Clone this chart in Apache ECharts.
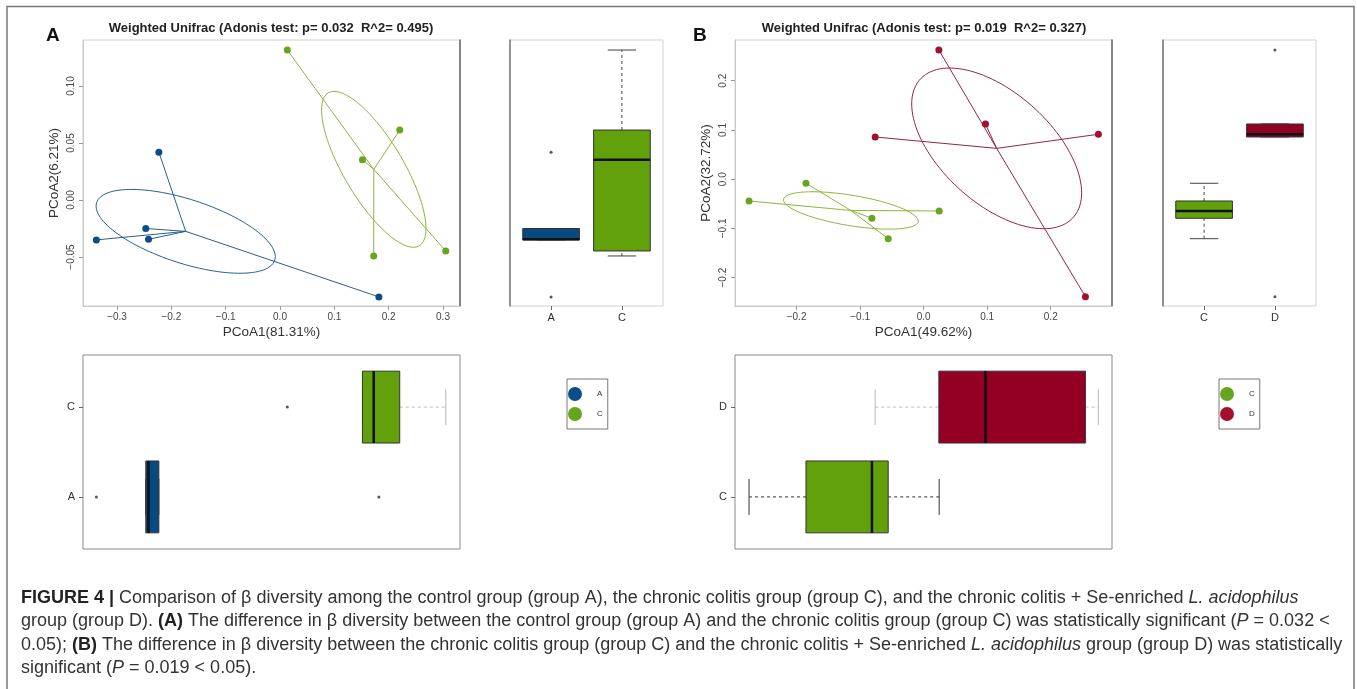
<!DOCTYPE html>
<html><head><meta charset="utf-8">
<script src="https://cdn.jsdelivr.net/npm/echarts@6/dist/echarts.min.js"></script>
<style>html,body{margin:0;padding:0;background:#fff}#chart{width:1357px;height:689px}</style>
</head><body><div id="chart"></div>
<script>
// ---------------- data ----------------
const groupsA = ['A', 'C'];
const groupsB = ['C', 'D'];
// Panel A: PCoA1 / PCoA2 coordinates
const pA_groupA_x = [-0.223, -0.247, -0.338, -0.242, 0.182];
const pA_groupA_y = [0.042, -0.025, -0.035, -0.0345, -0.085];
const pA_groupC_x = [0.0135, 0.2204, 0.1517, 0.1725, 0.3051];
const pA_groupC_y = [0.1316, 0.0614, 0.0354, -0.0491, -0.0447];
// Panel B
const pB_groupC_x = [-0.2748, -0.1852, -0.0814, -0.0558, 0.0244];
const pB_groupC_y = [-0.0443, -0.0083, -0.0794, -0.1208, -0.0646];
const pB_groupD_x = [0.0239, 0.0973, -0.0763, 0.275, 0.2546];
const pB_groupD_y = [0.2623, 0.1121, 0.0857, 0.0912, -0.2386];
// ellipse size factors (relative to 1 SD)
const ellipseScaleA = [0.81, 0.90];
const ellipseScaleB = [0.91, 0.89];
// tick labels
const ticksA_x = [-0.3, -0.2, -0.1, 0.0, 0.1, 0.2, 0.3];
const ticksA_y = [-0.05, 0.00, 0.05, 0.10];
const ticksB_x = [-0.2, -0.1, 0.0, 0.1, 0.2];
const ticksB_y = [-0.2, -0.1, 0.0, 0.1, 0.2];
const titleA = 'Weighted Unifrac (Adonis test: p= 0.032  R^2= 0.495)';
const titleB = 'Weighted Unifrac (Adonis test: p= 0.019  R^2= 0.327)';
const xNameA = 'PCoA1(81.31%)', yNameA = 'PCoA2(6.21%)';
const xNameB = 'PCoA1(49.62%)', yNameB = 'PCoA2(32.72%)';

// ---------------- styles ----------------
const FONT = '"Liberation Sans", Arial, Helvetica, sans-serif';
const COL = { A: '#0b4c8a', C: '#66a61e', D: '#a3102e' };
const LINECOL = { A: '#2b5f90', C: '#8db53e', D: '#93244d' };
const FILL = { A: '#064a82', C: '#62a00c', D: '#930023' };

// ---------------- helpers ----------------
function fivenum(arr) {
  const s = arr.slice().sort((a, b) => a - b), n = s.length;
  const n4 = Math.floor((n + 3) / 2) / 2;
  const d = [1, n4, (n + 1) / 2, n + 1 - n4, n];
  return d.map(v => 0.5 * (s[Math.floor(v) - 1] + s[Math.ceil(v) - 1]));
}
function boxStats(arr) {
  const f = fivenum(arr), iqr = f[3] - f[1];
  const lo = f[1] - 1.5 * iqr, hi = f[3] + 1.5 * iqr;
  const inside = arr.filter(v => v >= lo && v <= hi);
  return { low: Math.min(...inside), q1: f[1], med: f[2], q3: f[3], high: Math.max(...inside),
           out: arr.filter(v => v < lo || v > hi) };
}
function mean(a) { return a.reduce((s, v) => s + v, 0) / a.length; }
function ellipse(xs, ys, scale) {
  const cx = mean(xs), cy = mean(ys), m = xs.length;
  let sxx = 0, syy = 0, sxy = 0;
  for (let i = 0; i < m; i++) { const dx = xs[i] - cx, dy = ys[i] - cy; sxx += dx * dx; syy += dy * dy; sxy += dx * dy; }
  sxx /= (m - 1); syy /= (m - 1); sxy /= (m - 1);
  const l11 = Math.sqrt(sxx), l21 = sxy / l11, l22 = Math.sqrt(Math.max(syy - l21 * l21, 0));
  const pts = [];
  for (let k = 0; k <= 120; k++) {
    const t = 2 * Math.PI * k / 120;
    pts.push([cx + scale * l11 * Math.cos(t), cy + scale * (l21 * Math.cos(t) + l22 * Math.sin(t))]);
  }
  return pts;
}
const zip = (xs, ys) => xs.map((x, i) => [x, ys[i]]);
const fmtMinus = s => s.replace('-', '\u2212');

// ---------------- build series ----------------
const series = [];
function addScatterPanel(grid, groups, xsList, ysList, scales) {
  groups.forEach((g, gi) => {
    const xs = xsList[gi], ys = ysList[gi];
    const c = [mean(xs), mean(ys)];
    series.push({ type: 'line', name: 'ell' + g + grid, xAxisIndex: grid, yAxisIndex: grid, data: ellipse(xs, ys, scales[gi]),
      showSymbol: false, symbol: 'none', smooth: false, lineStyle: { color: LINECOL[g], width: 1 }, z: 2, silent: true });
    series.push({ type: 'custom', name: 'spider' + g + grid, xAxisIndex: grid, yAxisIndex: grid, data: zip(xs, ys), z: 3, silent: true,
      renderItem: (params, api) => {
        const p = api.coord([api.value(0), api.value(1)]), q = api.coord(c);
        return { type: 'line', shape: { x1: q[0], y1: q[1], x2: p[0], y2: p[1] }, style: { stroke: LINECOL[g], lineWidth: 1 } };
      } });
    series.push({ type: 'scatter', name: g, xAxisIndex: grid, yAxisIndex: grid, data: zip(xs, ys), symbol: 'circle', symbolSize: 7,
      itemStyle: { color: COL[g], opacity: 1 }, z: 4 });
  });
}
function addBoxPanel(grid, groups, valsList, horizontal, whiskerCols) {
  const data = [], outs = [];
  groups.forEach((g, gi) => {
    const b = boxStats(valsList[gi]), pos = gi + 1;
    data.push([pos, b.low, b.q1, b.med, b.q3, b.high, gi]);
    b.out.forEach(v => outs.push(horizontal ? [v, pos] : [pos, v]));
  });
  series.push({ type: 'custom', name: 'box' + grid, xAxisIndex: grid, yAxisIndex: grid, data: data, silent: true,
    encode: horizontal ? { x: [1, 2, 3, 4, 5], y: 0 } : { x: 0, y: [1, 2, 3, 4, 5] },
    renderItem: (params, api) => {
      const pos = api.value(0), low = api.value(1), q1 = api.value(2), med = api.value(3), q3 = api.value(4), high = api.value(5);
      const gi = api.value(6), g = groups[gi];
      const P = (p, v) => horizontal ? api.coord([v, p]) : api.coord([p, v]);
      const hw = 0.4, cw = 0.2, wc = whiskerCols[gi];
      const ln = (a, b, st) => ({ type: 'line', shape: { x1: a[0], y1: a[1], x2: b[0], y2: b[1] }, style: st });
      const a = P(pos - hw, q1), b = P(pos + hw, q3);
      return { type: 'group', children: [
        ln(P(pos, low), P(pos, q1), { stroke: wc, lineWidth: 1, lineDash: [3, 3] }),
        ln(P(pos, q3), P(pos, high), { stroke: wc, lineWidth: 1, lineDash: [3, 3] }),
        ln(P(pos - cw, low), P(pos + cw, low), { stroke: wc, lineWidth: 1 }),
        ln(P(pos - cw, high), P(pos + cw, high), { stroke: wc, lineWidth: 1 }),
        { type: 'rect', shape: { x: Math.min(a[0], b[0]), y: Math.min(a[1], b[1]), width: Math.abs(a[0] - b[0]), height: Math.abs(a[1] - b[1]) },
          style: { fill: FILL[g], stroke: '#333', lineWidth: 1 } },
        ln(P(pos - hw, med), P(pos + hw, med), { stroke: '#111', lineWidth: 2.5 })
      ] };
    } });
  series.push({ type: 'scatter', name: 'out' + grid, xAxisIndex: grid, yAxisIndex: grid, data: outs, symbolSize: 3,
    itemStyle: { color: '#555', opacity: 1 }, silent: true });
}

addScatterPanel(0, groupsA, [pA_groupA_x, pA_groupC_x], [pA_groupA_y, pA_groupC_y], ellipseScaleA);
addBoxPanel(1, groupsA, [pA_groupA_y, pA_groupC_y], false, ['#444', '#444']);
addBoxPanel(2, groupsA, [pA_groupA_x, pA_groupC_x], true, ['#444', '#bbb']);
addScatterPanel(3, groupsB, [pB_groupC_x, pB_groupD_x], [pB_groupC_y, pB_groupD_y], ellipseScaleB);
addBoxPanel(4, groupsB, [pB_groupC_y, pB_groupD_y], false, ['#444', '#444']);
addBoxPanel(5, groupsB, [pB_groupC_x, pB_groupD_x], true, ['#333', '#bbb']);

// ---------------- axes ----------------
const GA = { min: -0.3626, max: 0.3313 }, GAy = { min: -0.093, max: 0.1404 };
const GB = { min: -0.2969, max: 0.2964 }, GBy = { min: -0.2575, max: 0.2826 };
const POS = { min: 0.42, max: 2.58 };
const lbl = { color: '#444', fontSize: 10, fontFamily: FONT };
const tick = (vals) => ({ show: true, length: 4, lineStyle: { color: '#999' }, customValues: vals });
const noLine = { show: false };

function sx(grid, rng, ticks, dec, name) {
  return { type: 'value', gridIndex: grid, min: rng.min, max: rng.max, splitLine: noLine,
    axisLine: { show: true, onZero: false, lineStyle: { color: '#c8c8c8' } }, axisTick: tick(ticks),
    axisLabel: { ...lbl, margin: 6, customValues: ticks, formatter: v => fmtMinus(v.toFixed(dec)) },
    name: name, nameLocation: 'middle', nameGap: 19, nameTextStyle: { fontSize: 13.5, color: '#333', fontFamily: FONT, verticalAlign: 'top' } };
}
function sy(grid, rng, ticks, dec, name) {
  return { type: 'value', gridIndex: grid, min: rng.min, max: rng.max, splitLine: noLine,
    axisLine: { show: true, onZero: false, lineStyle: { color: '#c8c8c8' } }, axisTick: tick(ticks),
    axisLabel: { ...lbl, margin: 7, rotate: 90, customValues: ticks, formatter: v => fmtMinus(v.toFixed(dec)) },
    name: name, nameLocation: 'middle', nameGap: 22, nameTextStyle: { fontSize: 13.5, color: '#333', fontFamily: FONT } };
}
function hidden(grid, rng, lineCol, pos) {
  return { type: 'value', gridIndex: grid, min: rng.min, max: rng.max, position: pos, splitLine: noLine,
    axisLine: { show: !!lineCol, onZero: false, lineStyle: { color: lineCol || '#ccc', width: 1.5 } }, axisTick: { show: false }, axisLabel: { show: false } };
}
function catAxis(grid, groups, isX) {
  return { type: 'value', gridIndex: grid, min: POS.min, max: POS.max, splitLine: noLine,
    axisLine: { show: false, onZero: false }, axisTick: { show: true, length: 4, lineStyle: { color: '#666' }, customValues: [1, 2] },
    axisLabel: { color: '#333', fontSize: 11, fontFamily: FONT, margin: isX ? 6 : 8, customValues: [1, 2], formatter: v => groups[Math.round(v) - 1] } };
}

const xAxis = [
  sx(0, GA, ticksA_x, 1, xNameA),
  catAxis(1, groupsA, true),
  hidden(2, GA),
  sx(3, GB, ticksB_x, 1, xNameB),
  catAxis(4, groupsB, true),
  hidden(5, GB)
];
const yAxis = [
  sy(0, GAy, ticksA_y, 2, yNameA),
  hidden(1, GAy, '#777', 'left'),
  catAxis(2, groupsA, false),
  sy(3, GBy, ticksB_y, 1, yNameB),
  hidden(4, GBy, '#777', 'left'),
  catAxis(5, groupsB, false),
  hidden(0, GAy, '#666', 'right'),
  hidden(3, GBy, '#666', 'right')
];

const gridBase = { show: true, borderColor: '#d0d0d0', borderWidth: 1, backgroundColor: 'transparent', containLabel: false };
const grid = [
  { ...gridBase, left: 83, top: 40, width: 377, height: 266 },
  { ...gridBase, left: 510, top: 40, width: 153, height: 266 },
  { ...gridBase, left: 83, top: 355, width: 377, height: 194, borderColor: '#8a8a8a' },
  { ...gridBase, left: 735, top: 40, width: 377, height: 266 },
  { ...gridBase, left: 1163, top: 40, width: 153, height: 266 },
  { ...gridBase, left: 735, top: 355, width: 377, height: 194, borderColor: '#8a8a8a' }
];

const legendBase = { orient: 'vertical', icon: 'circle', itemWidth: 14, itemHeight: 14, itemGap: 6, selectedMode: false,
  padding: [8, 5, 8, 1], borderColor: '#777', borderWidth: 1,
  textStyle: { fontSize: 8, color: '#333', fontFamily: FONT, padding: [0, 0, 0, 10] } };
const legend = [
  { ...legendBase, data: groupsA, left: 567, top: 379 },
  { ...legendBase, data: groupsB, left: 1219, top: 379 }
];

const title = [
  { text: titleA, left: 271, top: 22, padding: 0, textAlign: 'center', textStyle: { fontSize: 13, fontWeight: 'bold', color: '#222', fontFamily: FONT } },
  { text: titleB, left: 924, top: 22, padding: 0, textAlign: 'center', textStyle: { fontSize: 13, fontWeight: 'bold', color: '#222', fontFamily: FONT } },
  { text: 'A', left: 46, top: 26, padding: 0, textStyle: { fontSize: 19, fontWeight: 'bold', color: '#111', fontFamily: FONT } },
  { text: 'B', left: 693, top: 26, padding: 0, textStyle: { fontSize: 19, fontWeight: 'bold', color: '#111', fontFamily: FONT } }
];

// ---------------- caption ----------------
const capFS = 18;
const rich = {
  n: { fontSize: capFS, fontFamily: FONT, fill: '#333' },
  b: { fontSize: capFS, fontFamily: FONT, fontWeight: 'bold', fill: '#222' },
  i: { fontSize: capFS, fontFamily: FONT, fontStyle: 'italic', fill: '#333' }
};
const captionLines = [
  '{b|FIGURE 4 |}{n| Comparison of β diversity among the control group (group A), the chronic colitis group (group C), and the chronic colitis + Se-enriched }{i|L. acidophilus}',
  '{n|group (group D). }{b|(A)}{n| The difference in β diversity between the control group (group A) and the chronic colitis group (group C) was statistically significant (}{i|P}{n| = 0.032 <}',
  '{n|0.05); }{b|(B)}{n| The difference in β diversity between the chronic colitis group (group C) and the chronic colitis + Se-enriched }{i|L. acidophilus}{n| group (group D) was statistically}',
  '{n|significant (}{i|P}{n| = 0.019 < 0.05).}'
];
const graphic = captionLines.map((t, k) => ({ type: 'text', left: 21, top: 589 + k * 23.3, silent: true,
  style: { text: t, rich: rich, fontSize: capFS, fontFamily: FONT, fill: '#333' } }));
graphic.push({ type: 'polyline', silent: true, shape: { points: [[7, 689], [7, 6.5], [1354, 6.5], [1354, 689]] },
  style: { stroke: '#777', lineWidth: 1.5, fill: null } });

const chart = echarts.init(document.getElementById('chart'), null, { renderer: 'canvas' });
chart.setOption({ animation: false, backgroundColor: '#fff', title, grid, xAxis, yAxis, legend, series, graphic });
</script></body></html>
